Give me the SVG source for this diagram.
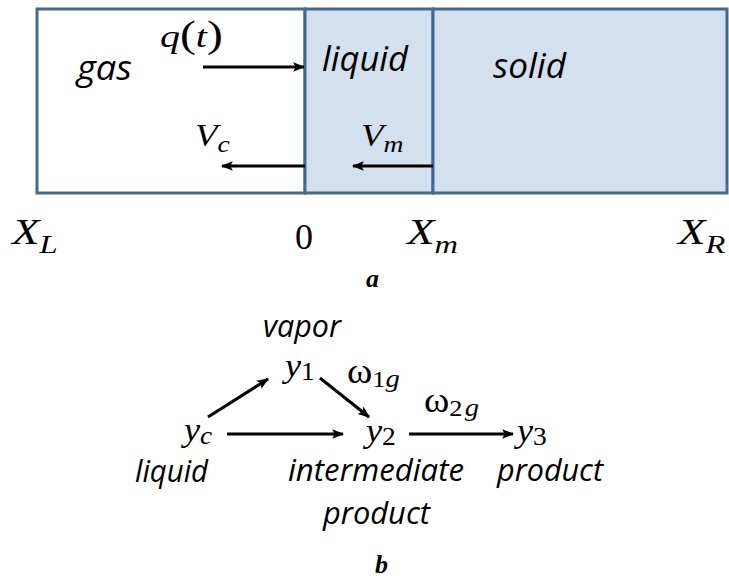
<svg xmlns="http://www.w3.org/2000/svg" width="729" height="584" viewBox="0 0 729 584">
<style>
.lab{font-family:"Open Sans","Liberation Sans",sans-serif;font-style:italic;font-size:35px;fill:#000}
.lb{font-size:31px}
.m{font-family:"Liberation Serif",serif;font-style:italic;fill:#000}
.r{font-family:"Liberation Serif",serif;font-style:normal;fill:#000}
.ln{stroke:#000;stroke-width:3;fill:none}
.box{stroke:#44698f;stroke-width:3}
</style>
<defs>
<marker id="ah" viewBox="0 0 10 10" refX="9" refY="5" markerWidth="4" markerHeight="4" orient="auto" markerUnits="strokeWidth">
<path d="M0,1 L10,5 L0,9 L2,5 z" fill="#000"/>
</marker>
</defs>
<g id="gas"><rect class="box" x="37" y="9" width="268" height="184" fill="#fff"/><text class="lab" x="77" y="80" textLength="55" lengthAdjust="spacingAndGlyphs">gas</text></g>
<g id="liquid"><rect class="box" x="305" y="9" width="128" height="184" fill="#d3e0ee"/><text class="lab" x="322" y="71" textLength="86" lengthAdjust="spacingAndGlyphs">liquid</text></g>
<g id="solid"><rect class="box" x="433" y="9" width="294" height="184" fill="#d3e0ee"/><text class="lab" x="493" y="78" textLength="73" lengthAdjust="spacingAndGlyphs">solid</text></g>
<g id="connectors">
<line class="ln" x1="203" y1="67" x2="304" y2="67" marker-end="url(#ah)"/>
<line class="ln" x1="305" y1="166" x2="222" y2="166" marker-end="url(#ah)"/>
<line class="ln" x1="433" y1="166" x2="353" y2="166" marker-end="url(#ah)"/>
<line class="ln" x1="208" y1="417" x2="268" y2="379" marker-end="url(#ah)"/>
<line class="ln" x1="320" y1="378" x2="369" y2="417" marker-end="url(#ah)"/>
<line class="ln" x1="227" y1="434" x2="343" y2="434" marker-end="url(#ah)"/>
<line class="ln" x1="409" y1="434" x2="513" y2="434" marker-end="url(#ah)"/>
</g>
<g id="labels-a">
<text class="m" transform="translate(160,47) scale(1.25,1)" font-size="32">q<tspan class="r" font-size="38">(</tspan>t<tspan class="r" font-size="38">)</tspan></text>
<text class="m" transform="translate(195,146) scale(1.15,1)" font-size="32">V<tspan font-size="24" dy="6">c</tspan></text>
<text class="m" transform="translate(361,146) scale(1.15,1)" font-size="32">V<tspan font-size="24" dy="6">m</tspan></text>
<text class="m" transform="translate(12,244) scale(1.25,1)" font-size="36">X<tspan font-size="26" dy="9">L</tspan></text>
<text class="r" x="295" y="249" font-size="36">0</text>
<text class="m" transform="translate(407,244) scale(1.25,1)" font-size="36">X<tspan font-size="26" dy="9">m</tspan></text>
<text class="m" transform="translate(678,244) scale(1.25,1)" font-size="36">X<tspan font-size="26" dy="9">R</tspan></text>
<text class="m" x="366" y="287" font-size="26" font-weight="bold">a</text>
</g>
<g id="vapor"><text class="lab lb" x="263" y="337" textLength="78" lengthAdjust="spacingAndGlyphs">vapor</text><text class="m" transform="translate(285,377) scale(1.1,1)" font-size="33">y<tspan class="r" font-size="25" dy="3">1</tspan></text></g>
<g id="yc"><text class="m" transform="translate(184,441) scale(1.1,1)" font-size="33">y<tspan font-size="25" dy="3">c</tspan></text><text class="lab lb" x="135" y="482" textLength="73" lengthAdjust="spacingAndGlyphs">liquid</text></g>
<g id="y2"><text class="m" transform="translate(366,442) scale(1.1,1)" font-size="33">y<tspan class="r" font-size="25" dy="3">2</tspan></text><text class="lab lb" x="288" y="481" textLength="176" lengthAdjust="spacingAndGlyphs">intermediate</text><text class="lab lb" x="323" y="524" textLength="107" lengthAdjust="spacingAndGlyphs">product</text></g>
<g id="y3"><text class="m" transform="translate(517,442) scale(1.1,1)" font-size="33">y<tspan class="r" font-size="25" dy="3">3</tspan></text><text class="lab lb" x="497" y="481" textLength="106" lengthAdjust="spacingAndGlyphs">product</text></g>
<g id="rates">
<text class="r" transform="translate(347,383) scale(1.1,1)" font-size="35">ω<tspan font-size="24" dy="4">1</tspan><tspan class="m" font-size="26">g</tspan></text>
<text class="r" transform="translate(424,412) scale(1.1,1)" font-size="35">ω<tspan font-size="24" dy="4">2</tspan><tspan class="m" font-size="26" dx="2">g</tspan></text>
<text class="m" x="375" y="573" font-size="26" font-weight="bold">b</text>
</g>
</svg>
